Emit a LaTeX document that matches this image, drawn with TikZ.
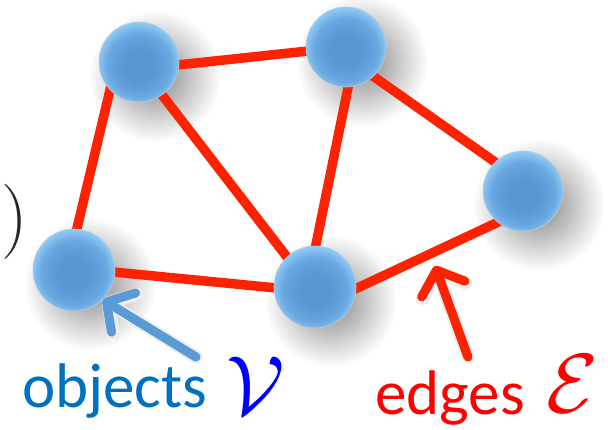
\documentclass[tikz,border=0pt]{standalone}
\usepackage{graphicx}
\usepackage{fontspec}
\newfontfamily\labelfont{Carlito}
\usetikzlibrary{arrows.meta,fadings}

\definecolor{edgered}{RGB}{255,34,0}
\definecolor{sphcore}{RGB}{90,150,210}
\definecolor{sphmid}{RGB}{106,168,226}
\definecolor{sphrim}{RGB}{150,207,247}
\definecolor{sphline}{RGB}{185,203,218}
\definecolor{objblue}{RGB}{0,112,192}
\definecolor{arrowblue}{RGB}{91,155,213}

\pgfdeclareradialshading{spherefill}{\pgfpoint{0bp}{-3bp}}{%
  color(0bp)=(sphcore); color(10bp)=(sphcore); color(20bp)=(sphmid);
  color(27bp)=(sphrim); color(50bp)=(sphrim)}
\tikzfading[name=shadowfade, inner color=transparent!52, outer color=transparent!100]

\pgfdeclarelayer{shadows}
\pgfdeclarelayer{links}
\pgfsetlayers{shadows,links,main}

\begin{document}
\begin{tikzpicture}[x=1pt,y=-1pt,
  sphere/.style={circle, minimum size=80pt, inner sep=0pt, shading=spherefill,
    draw=sphline, line width=0.6pt},
  link/.style={edgered, line width=9.5pt, shorten <=-3pt, shorten >=-3pt},
  pointer/.style={line width=9pt, line cap=round,
    -{Straight Barb[round, length=20pt, width=46pt]}},
  pointershade/.style={pointer, shift={(3,4)}},
  label/.style={anchor=base west, inner sep=0pt},
]
\useasboundingbox (0,0) rectangle (608,429);

% white sheet and soft drop shadows behind the spheres
\begin{pgfonlayer}{shadows}
  \fill[white] (0,0) rectangle (608,429);
  \foreach \cx/\cy in {139/62, 346/47, 523/191, 74/270, 315/287}
    \fill[black, path fading=shadowfade] (\cx+16,\cy+14) circle (66);
\end{pgfonlayer}

% vertices
\node[sphere] (A) at (139,62) {};
\node[sphere] (B) at (346,47) {};
\node[sphere] (C) at (523,191) {};
\node[sphere, minimum size=82pt] (D) at (74,270) {};
\node[sphere, minimum size=82pt] (E) at (315,287) {};

% edges
\begin{pgfonlayer}{links}
  \draw[link] (A.-4)  -- (B.186);
  \draw[link] (A.224) -- (D.86);
  \draw[link] (A.-55) -- (E.133);
  \draw[link] (B.-87) -- (E.89);
  \draw[link] (B.-47) -- (C.134);
  \draw[link] (C.231) -- (E.-2);
  \draw[link] (D.-3)  -- (E.181);
\end{pgfonlayer}

% closing parenthesis at the left border
\node[inner sep=0pt, text=black!85, font=\fontsize{75}{75}\selectfont] (paren) at (15,222) {)};

% labels
\node[label, text=objblue, font=\labelfont\fontsize{63}{63}\selectfont] (objlabel) at (22,407) {objects};
\node[label, text=blue] (vset) at (226,414) {\scalebox{8.4}{$\mathcal{V}$}};
\node[label, text=red, font=\labelfont\fontsize{63}{63}\selectfont] (edgelabel) at (375,414) {edges};
\node[label, text=red] (eset) at (546,412) {\scalebox{8.4}{$\mathcal{E}$}};

% pointers
\coordinate (objtail) at (196,357);
\coordinate (edgetail) at (468,357);
\coordinate (edgetip) at (435,266);

\draw[pointershade, black!7, line width=13pt] (objtail) -- (D.-46);
\draw[pointershade, black!12] (objtail) -- (D.-46);
\draw[pointershade, black!7, line width=13pt] (edgetail) -- (edgetip);
\draw[pointershade, black!12] (edgetail) -- (edgetip);

\draw[pointer, arrowblue] (objtail) -- (D.-46);
\draw[pointer, edgered] (edgetail) -- (edgetip);
\end{tikzpicture}
\end{document}
